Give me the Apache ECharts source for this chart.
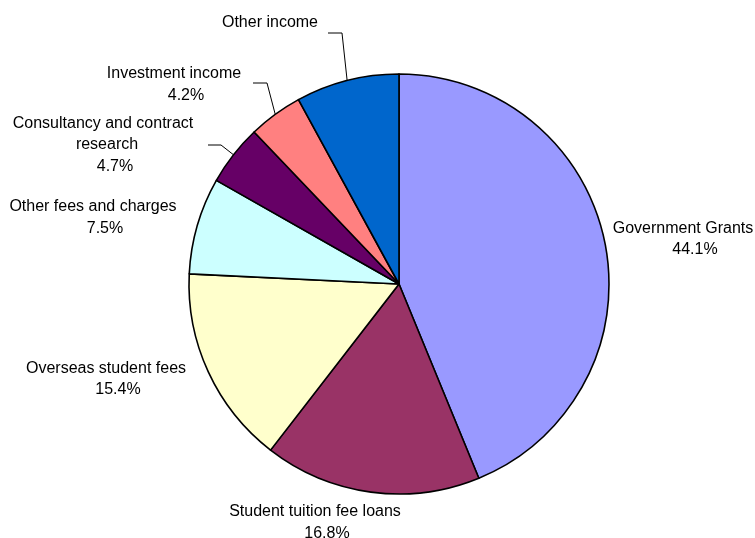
<!DOCTYPE html>
<html>
<head>
<meta charset="utf-8">
<script src="https://cdn.jsdelivr.net/npm/echarts@6/dist/echarts.min.js"></script>
<style>
  html, body { margin: 0; padding: 0; background: #ffffff; }
  #chart { width: 755px; height: 538px; }
</style>
</head>
<body>
<div id="chart"></div>
<script>
// Income sources, share of total income (%)
const categories = [
  'Government Grants',
  'Student tuition fee loans',
  'Overseas student fees',
  'Other fees and charges',
  'Consultancy and contract research',
  'Investment income',
  'Other income'
];
const shares = [44.1, 16.8, 15.4, 7.5, 4.7, 4.2, 8.0];
const showPercent = [true, true, true, true, true, true, false];

const sliceColors = ['#9999FF', '#993366', '#FFFFCC', '#CCFFFF', '#660066', '#FF8080', '#0066CC'];

// Label placement: centre of the first text line (x) and middle of the label block (y)
const labelSpots = [
  [683, 239],
  [315, 522.5],
  [106, 379],
  [93, 217.5],
  [103, 145],
  [174, 84.5],
  [270, 23]
];
// Leader lines: elbow and end next to the text (null = no leader line)
const leaderBends = [
  null, null, null, null,
  [[221, 145], [208, 145]],
  [[267, 83], [253, 83]],
  [[342, 33], [328, 33]]
];

const FONT = 'Liberation Sans, Arial, Helvetica, sans-serif';
const CX = 399, CY = 284, R = 210;

// break long names onto two lines at the last space before the limit
function wrapName(name) {
  const limit = 28;
  if (name.length <= limit) return [name];
  const cut = name.lastIndexOf(' ', 24);
  return [name.slice(0, cut), name.slice(cut + 1)];
}

const seriesData = categories.map((name, i) => ({
  name: name,
  value: shares[i],
  itemStyle: { color: sliceColors[i] },
  labelLine: { show: leaderBends[i] !== null }
}));

// angle of each slice's middle, clockwise from 12 o'clock
const total = shares.reduce((a, b) => a + b, 0);
const midAngles = [];
{
  let acc = 0;
  shares.forEach(v => { midAngles.push((acc + v / 2) / total * 2 * Math.PI); acc += v; });
}

const chart = echarts.init(document.getElementById('chart'), null, { renderer: 'canvas' });

chart.setOption({
  backgroundColor: '#ffffff',
  animation: false,
  series: [{
    type: 'pie',
    center: [CX, CY],
    radius: R,
    startAngle: 90,
    clockwise: true,
    avoidLabelOverlap: false,
    data: seriesData,
    itemStyle: { borderColor: '#000000', borderWidth: 1.6 },
    emphasis: { disabled: true },
    label: {
      show: true,
      position: 'outside',
      fontFamily: FONT,
      fontSize: 16,
      color: '#000000',
      align: 'center',
      formatter: function (p) {
        const lines = wrapName(p.name).map((t, k) => k === 0 ? '{n|' + t + '}' : '{w|' + t + '}');
        if (showPercent[p.dataIndex]) lines.push('{p|' + p.value.toFixed(1) + '%}');
        return lines.join('\n');
      },
      rich: {
        n: { fontFamily: FONT, fontSize: 16, color: '#000', lineHeight: 21.5, align: 'center' },
        w: { fontFamily: FONT, fontSize: 16, color: '#000', lineHeight: 21.5, align: 'center', padding: [0, 0, 0, 8] },
        p: { fontFamily: FONT, fontSize: 16, color: '#000', lineHeight: 21.5, align: 'center', padding: [0, 0, 0, 24] }
      }
    },
    labelLine: {
      show: true,
      lineStyle: { color: '#000000', width: 1 }
    },
    labelLayout: function (params) {
      const i = params.dataIndex;
      const spot = labelSpots[i];
      const out = { x: spot[0], y: spot[1], align: 'center', verticalAlign: 'middle', hideOverlap: false, moveOverlap: null };
      const bend = leaderBends[i];
      if (bend) {
        const a = midAngles[i];
        const edge = [CX + R * Math.sin(a), CY - R * Math.cos(a)];
        out.labelLinePoints = [edge, bend[0], bend[1]];
      }
      return out;
    }
  }]
});
</script>
</body>
</html>
